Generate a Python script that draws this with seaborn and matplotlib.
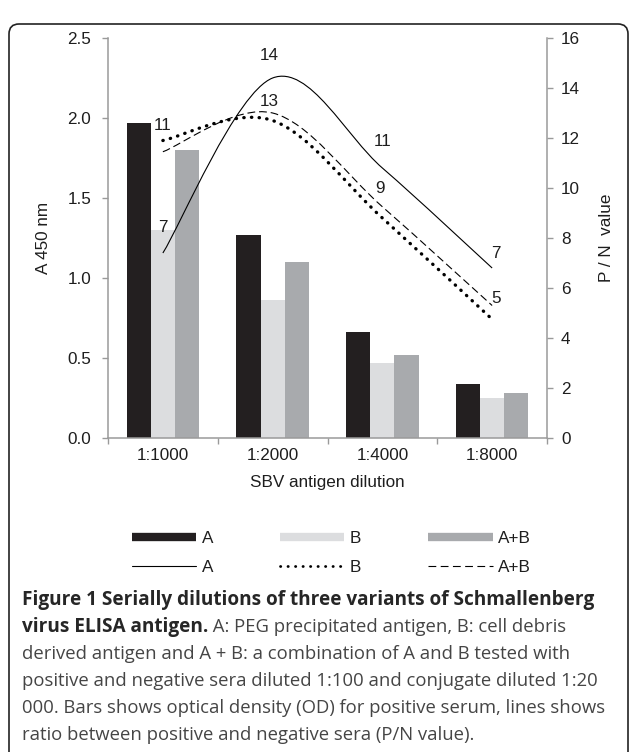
#!/usr/bin/env python3
"""Schmallenberg virus ELISA antigen dilutions: OD bars and P/N ratio lines."""

import matplotlib.pyplot as plt
import numpy as np
import pandas as pd
import seaborn as sns
from matplotlib.lines import Line2D
from matplotlib.patches import FancyBboxPatch, PathPatch
from matplotlib.path import Path
from matplotlib.transforms import IdentityTransform

# --- data ---------------------------------------------------------------
DILUTIONS = ["1:1000", "1:2000", "1:4000", "1:8000"]
VARIANTS = ["A", "B", "A+B"]

OD_A = [1.97, 1.27, 0.66, 0.34]
OD_B = [1.30, 0.86, 0.47, 0.25]
OD_AB = [1.80, 1.10, 0.52, 0.28]

PN_A = [7.4, 14.4, 10.8, 6.8]
PN_B = [11.9, 12.7, 8.8, 4.75]
PN_AB = [11.45, 13.0, 9.25, 5.3]

PN_A_LABELS = ["7", "14", "11", "7"]
PN_AB_LABELS = ["11", "13", "9", "5"]

BAR_COLORS = ["#231f20", "#dcdddf", "#a8aaad"]
AXIS_GREY = "#9a9a9a"
TEXT = "#1e1e1e"
FS = 12.3
PX = 0.72  # points per pixel at dpi 100


def smooth_path(xs, ys):
    """Catmull-Rom style Bezier path through the points (like Excel smoothing)."""
    pts = np.column_stack([xs, ys]).astype(float)
    n = len(pts)
    verts = [pts[0]]
    codes = [Path.MOVETO]
    for i in range(n - 1):
        p0 = pts[max(i - 1, 0)]
        p1 = pts[i]
        p2 = pts[i + 1]
        p3 = pts[min(i + 2, n - 1)]
        verts += [p1 + (p2 - p0) / 6, p2 - (p3 - p1) / 6, p2]
        codes += [Path.CURVE4] * 3
    return Path(verts, codes)


def main():
    sns.set_theme(style="white")
    plt.rcParams["font.family"] = ["Liberation Sans", "DejaVu Sans"]

    bars = pd.DataFrame(
        {
            "dilution": DILUTIONS * 3,
            "variant": np.repeat(VARIANTS, len(DILUTIONS)),
            "od": OD_A + OD_B + OD_AB,
        }
    )

    fig = plt.figure(figsize=(6.29, 7.52), dpi=100)
    ax = fig.add_axes([108 / 629, 1 - 438 / 752, 439 / 629, 400 / 752])
    sns.barplot(
        data=bars, x="dilution", y="od", hue="variant", order=DILUTIONS,
        hue_order=VARIANTS, palette=BAR_COLORS, saturation=1, width=0.66,
        linewidth=0, legend=False, ax=ax,
    )
    ax.set_xlim(-0.5, 3.5)
    ax.set_ylim(0, 2.5)
    ax.set_yticks(np.arange(0, 2.51, 0.5))
    ax.set_yticklabels([f"{v:.1f}" for v in np.arange(0, 2.51, 0.5)])
    ax.set_xticks(np.arange(-0.5, 3.6, 1.0), labels=[])
    ax.set_xticks(range(len(DILUTIONS)), labels=DILUTIONS, minor=True)
    ax.tick_params(axis="x", which="major", length=4, width=1, color=AXIS_GREY,
                   direction="out", bottom=True)
    ax.tick_params(axis="x", which="minor", length=0, pad=7, labelsize=FS,
                   labelcolor=TEXT)
    ax.tick_params(axis="y", length=4, width=1, color=AXIS_GREY, direction="out",
                   left=True, pad=8, labelsize=FS, labelcolor=TEXT)
    ax.set_xlabel("SBV antigen dilution", fontsize=FS, labelpad=9, color=TEXT)
    ax.set_ylabel("A 450 nm", fontsize=FS, labelpad=12, color=TEXT)
    for side in ["left", "bottom"]:
        ax.spines[side].set_color(AXIS_GREY)
        ax.spines[side].set_linewidth(1.1)
    ax.spines["top"].set_visible(False)
    ax.spines["right"].set_visible(False)

    ax2 = ax.twinx()
    ax2.set_ylim(0, 16)
    ax2.set_yticks(range(0, 17, 2))
    ax2.tick_params(axis="y", length=4, width=1, color=AXIS_GREY, direction="out",
                    right=True, pad=6, labelsize=FS, labelcolor=TEXT)
    ax2.set_ylabel("P / N  value", fontsize=FS, labelpad=14, color=TEXT)
    for side in ["left", "bottom", "top"]:
        ax2.spines[side].set_visible(False)
    ax2.spines["right"].set_color(AXIS_GREY)
    ax2.spines["right"].set_linewidth(1.1)

    xs = range(len(DILUTIONS))
    line_styles = [
        (PN_A, dict(linestyle="-", linewidth=0.8)),
        (PN_B, dict(linestyle=(0, (0.1, 2.2)), linewidth=2.4, capstyle="round")),
        (PN_AB, dict(linestyle=(0, (7, 3.5)), linewidth=0.8)),
    ]
    for values, style in line_styles:
        ax2.add_patch(PathPatch(smooth_path(xs, values), fill=False,
                                edgecolor="black", **style))

    a_offsets = [(0, 25), (-3, 22), (0, 27), (4, 15)]
    ab_offsets = [(0, 26), (-3, 12), (-2, 18), (4, 7)]
    for values, labels, offsets in [(PN_A, PN_A_LABELS, a_offsets),
                                    (PN_AB, PN_AB_LABELS, ab_offsets)]:
        for i, (val, lab) in enumerate(zip(values, labels)):
            ax2.annotate(lab, (i, val), xytext=(offsets[i][0] * PX, offsets[i][1] * PX),
                         textcoords="offset points", ha="center", va="center",
                         fontsize=FS, color=TEXT)

    handles = [
        Line2D([], [], color=BAR_COLORS[0], lw=6, solid_capstyle="butt"),
        Line2D([], [], color="black", lw=0.8),
        Line2D([], [], color=BAR_COLORS[1], lw=6, solid_capstyle="butt"),
        Line2D([], [], color="black", lw=2.0, linestyle=(0, (0.1, 2.6)),
               dash_capstyle="round"),
        Line2D([], [], color=BAR_COLORS[2], lw=6, solid_capstyle="butt"),
        Line2D([], [], color="black", lw=0.8, linestyle=(0, (7, 4))),
    ]
    labels = ["A", "A", "B", "B", "A+B", "A+B"]
    fig.legend(handles, labels, ncol=3, loc="center",
               bbox_to_anchor=(331 / 629, 1 - 553 / 752), frameon=False,
               fontsize=FS, handlelength=3.8, handletextpad=0.3,
               columnspacing=3.9, labelspacing=0.85, labelcolor=TEXT)

    # caption
    cap_font = ["Open Sans", "DejaVu Sans"]
    bold_size = 13.7
    size = 13.35
    x0 = 22 / 629
    line_y = [600, 627, 654, 681, 708, 735]
    fig.text(x0, 1 - line_y[0] / 752,
             "Figure 1 Serially dilutions of three variants of Schmallenberg",
             family=cap_font, fontsize=bold_size, fontweight="bold", va="center")
    bold2 = fig.text(x0, 1 - line_y[1] / 752, "virus ELISA antigen.",
                     family=cap_font, fontsize=bold_size, fontweight="bold",
                     va="center")
    regular2 = fig.text(x0, 1 - line_y[1] / 752,
                        " A: PEG precipitated antigen, B: cell debris",
                        family=cap_font, fontsize=size, color="#454545", va="center")
    rest = [
        "derived antigen and A + B: a combination of A and B tested with",
        "positive and negative sera diluted 1:100 and conjugate diluted 1:20",
        "000. Bars shows optical density (OD) for positive serum, lines shows",
        "ratio between positive and negative sera (P/N value).",
    ]
    for y, txt in zip(line_y[2:], rest):
        fig.text(x0, 1 - y / 752, txt, family=cap_font, fontsize=size,
                 color="#454545", va="center")

    # place the regular part of line 2 right after the bold part
    fig.canvas.draw()
    bb = bold2.get_window_extent()
    regular2.set_x(bb.x1 / fig.bbox.width)

    border = FancyBboxPatch((9, -30), 619, 770 - 12,
                            boxstyle="round,pad=0,rounding_size=10",
                            transform=IdentityTransform(), fill=False,
                            edgecolor="#222222", linewidth=1.2)
    fig.add_artist(border)

    fig.savefig("out.png", dpi=100)
    plt.close(fig)


if __name__ == "__main__":
    main()
